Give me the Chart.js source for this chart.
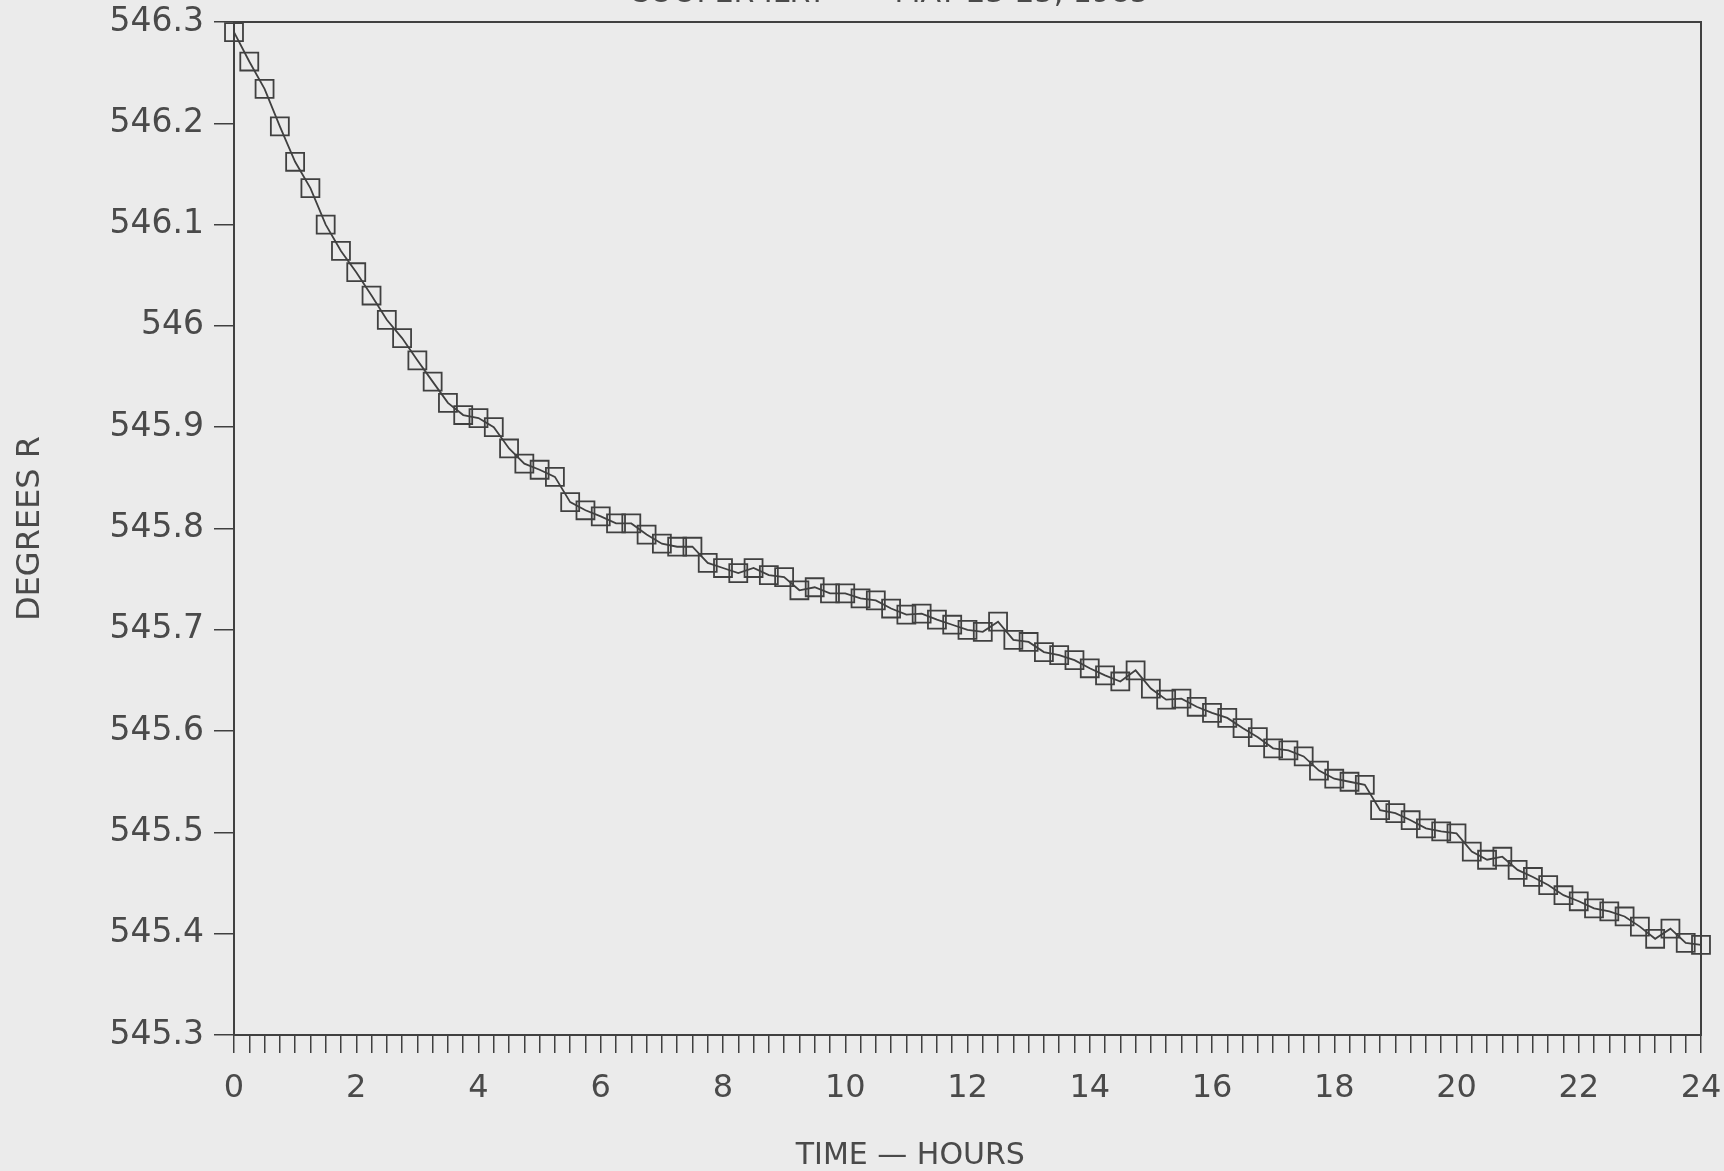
<!DOCTYPE html>
<html>
<head>
<meta charset="utf-8">
<script src="https://cdn.jsdelivr.net/npm/chart.js@4/dist/chart.umd.min.js"></script>
<style>
  html, body { margin: 0; padding: 0; background: #ebebeb; overflow: hidden; }
  #wrap { position: absolute; left: 0; top: -24px; width: 1724px; height: 1195px; }
</style>
</head>
<body>
<div id="wrap"><canvas id="c" width="1724" height="1195"></canvas></div>
<script>
const chartTitle = 'COOPER ILRT  —  MAY 23-25, 1985';
const xAxisTitle = 'TIME — HOURS';
const yAxisTitle = 'DEGREES R';

const hours = [
  0, 0.25, 0.5, 0.75, 1, 1.25, 1.5, 1.75, 2, 2.25, 2.5, 2.75,
  3, 3.25, 3.5, 3.75, 4, 4.25, 4.5, 4.75, 5, 5.25, 5.5, 5.75,
  6, 6.25, 6.5, 6.75, 7, 7.25, 7.5, 7.75, 8, 8.25, 8.5, 8.75,
  9, 9.25, 9.5, 9.75, 10, 10.25, 10.5, 10.75, 11, 11.25, 11.5, 11.75,
  12, 12.25, 12.5, 12.75, 13, 13.25, 13.5, 13.75, 14, 14.25, 14.5, 14.75,
  15, 15.25, 15.5, 15.75, 16, 16.25, 16.5, 16.75, 17, 17.25, 17.5, 17.75,
  18, 18.25, 18.5, 18.75, 19, 19.25, 19.5, 19.75, 20, 20.25, 20.5, 20.75,
  21, 21.25, 21.5, 21.75, 22, 22.25, 22.5, 22.75, 23, 23.25, 23.5, 23.75, 24
];

const degreesR = [
  546.290, 546.261, 546.234, 546.197, 546.162, 546.136, 546.100, 546.074, 546.053, 546.030, 546.006, 545.988,
  545.966, 545.945, 545.924, 545.912, 545.909, 545.900, 545.879, 545.864, 545.858, 545.851, 545.826, 545.818,
  545.812, 545.805, 545.805, 545.794, 545.785, 545.782, 545.782, 545.766, 545.761, 545.756, 545.761, 545.754,
  545.752, 545.739, 545.742, 545.736, 545.736, 545.731, 545.729, 545.721, 545.715, 545.716, 545.710, 545.705,
  545.700, 545.698, 545.708, 545.690, 545.688, 545.678, 545.675, 545.670, 545.662, 545.655, 545.649, 545.660,
  545.642, 545.631, 545.632, 545.624, 545.618, 545.613, 545.603, 545.594, 545.583, 545.581, 545.575, 545.561,
  545.553, 545.550, 545.547, 545.522, 545.519, 545.512, 545.504, 545.501, 545.499, 545.481, 545.473, 545.476,
  545.463, 545.456, 545.448, 545.438, 545.432, 545.425, 545.422, 545.417, 545.407, 545.395, 545.405, 545.391,
  545.389
];

const xTickLabels = [0, 2, 4, 6, 8, 10, 12, 14, 16, 18, 20, 22, 24];
const yTickLabels = ['545.3', '545.4', '545.5', '545.6', '545.7', '545.8', '545.9', '546', '546.1', '546.2', '546.3'];

const ink = '#404040';
const textInk = '#4a4a4a';
const fontFamily = '"DejaVu Sans", Verdana, sans-serif';

const points = hours.map((h, i) => ({ x: h, y: degreesR[i] }));

const framePlugin = {
  id: 'frame',
  afterDatasetsDraw(chart) {
    const { ctx, chartArea: a } = chart;
    ctx.save();
    ctx.strokeStyle = ink;
    ctx.lineWidth = 2;
    ctx.strokeRect(a.left, a.top, a.right - a.left, a.bottom - a.top);
    ctx.restore();
  }
};

new Chart(document.getElementById('c'), {
  type: 'line',
  data: {
    datasets: [{
      label: 'Temperature',
      data: points,
      borderColor: ink,
      borderWidth: 1.8,
      pointStyle: 'rect',
      pointRadius: 12.7,
      pointBorderWidth: 1.8,
      pointBorderColor: ink,
      pointBackgroundColor: 'rgba(0,0,0,0)',
      tension: 0,
      clip: false
    }]
  },
  plugins: [framePlugin],
  options: {
    responsive: false,
    animation: false,
    devicePixelRatio: 1,
    layout: { padding: { left: 0, right: 23, top: 0, bottom: 0 } },
    plugins: {
      legend: { display: false },
      tooltip: { enabled: false },
      title: {
        display: true,
        text: '        ' + chartTitle,
        color: textInk,
        font: { family: fontFamily, size: 30, weight: 'normal', lineHeight: 1.2 },
        padding: { top: 0, bottom: 10 }
      }
    },
    scales: {
      x: {
        type: 'linear',
        min: 0,
        max: 24,
        afterFit(scale) { scale.height = 136; scale.paddingRight = 0; scale.paddingLeft = 0; },
        ticks: {
          stepSize: 0.25,
          autoSkip: false,
          maxRotation: 0,
          minRotation: 0,
          padding: 16,
          color: textInk,
          font: { family: fontFamily, size: 32 },
          callback(value) {
            const hit = xTickLabels.find(t => Math.abs(t - value) < 1e-6);
            return hit === undefined ? '' : String(hit);
          }
        },
        grid: {
          drawOnChartArea: false,
          drawTicks: true,
          tickLength: 18,
          color: ink,
          lineWidth: 1.5
        },
        border: { display: true, color: ink, width: 2 },
        title: {
          display: true,
          text: xAxisTitle + '            ',
          color: textInk,
          font: { family: fontFamily, size: 30, lineHeight: 1.0 },
          padding: { top: 0, bottom: 0 }
        }
      },
      y: {
        type: 'linear',
        min: 545.3,
        max: 546.3,
        afterFit(scale) { scale.width = 234; scale.paddingTop = 0; scale.paddingBottom = 0; },
        ticks: {
          stepSize: 0.1,
          padding: 10,
          color: textInk,
          font: { family: fontFamily, size: 33 },
          callback(value) {
            const idx = Math.round((value - 545.3) * 10);
            return yTickLabels[idx] !== undefined ? yTickLabels[idx] : '';
          }
        },
        grid: {
          drawOnChartArea: false,
          drawTicks: true,
          tickLength: 20,
          color: ink,
          lineWidth: 1.5
        },
        border: { display: true, color: ink, width: 2 },
        title: {
          display: true,
          text: yAxisTitle,
          color: textInk,
          font: { family: fontFamily, size: 32, lineHeight: 1.2 },
          padding: { top: 11, bottom: 4 }
        }
      }
    }
  }
});
</script>
</body>
</html>
